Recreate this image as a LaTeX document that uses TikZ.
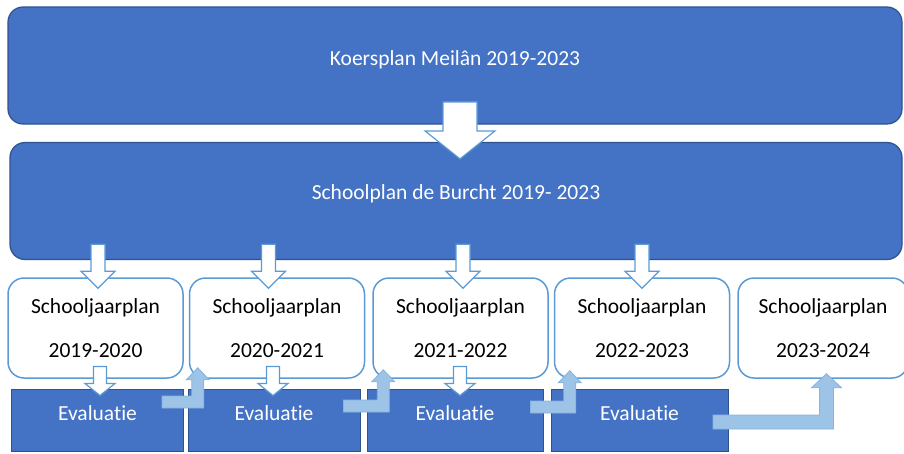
\documentclass[tikz,border=0pt]{standalone}
\usepackage{fontspec}
\setmainfont{Carlito}[Ligatures=NoCommon]
\usetikzlibrary{calc}
\usetikzlibrary{positioning}
\definecolor{mainblue}{RGB}{68, 114, 196}
\definecolor{darkblue}{RGB}{47, 82, 143}
\definecolor{lineblue}{RGB}{91, 155, 213}
\definecolor{bentblue}{RGB}{157, 195, 230}
\newcommand{\planfont}{\fontsize{21.5}{24}\selectfont}
\tikzset{
  mainbox/.style={
    draw=darkblue, fill=mainblue, line width=1.2pt, rounded corners=15pt,
    text=white, font=\planfont, text height=16pt, text depth=17pt,
    minimum height=117pt
  },
  planbox/.style={
    draw=lineblue, fill=white, line width=1.5pt, rounded corners=16pt,
    align=center, font=\planfont, minimum width=175pt, minimum height=100pt,
    inner sep=0pt
  },
  evalbox/.style={
    draw=darkblue, fill=mainblue, line width=1pt, text=white,
    font=\planfont, text height=16pt, text depth=16pt,
    minimum width=172pt, minimum height=62pt
  },
  blockarrow/.style={draw=lineblue, fill=white, line width=1.2pt, line join=miter},
  bentarrow/.style={draw=lineblue!75, fill=bentblue, line width=0.8pt, line join=miter}
}
% #1 tip, #2 length, #3 head length, #4 shaft half width, #5 head half width
\newcommand{\downblock}[5]{%
  \draw[blockarrow] #1 -- ++(-#5,-#3) -- ++(#5-#4,0) -- ++(0,#3-#2)
    -- ++(2*#4,0) -- ++(0,#2-#3) -- ++(#5-#4,0) -- cycle;}
% #1 tail, #2 tip, #3 shaft half width, #4 head half width, #5 head length
\newcommand{\bentblock}[5]{%
  \draw[bentarrow] let \p1=#1, \p2=#2 in
    (\x1,\y1+#3pt) -- (\x2-#3pt,\y1+#3pt) -- (\x2-#3pt,\y2-#5pt)
    -- (\x2-#4pt,\y2-#5pt) -- (\x2,\y2) -- (\x2+#4pt,\y2-#5pt)
    -- (\x2+#3pt,\y2-#5pt) -- (\x2+#3pt,\y1-#3pt) -- (\x1,\y1-#3pt) -- cycle;}

\begin{document}
\begin{tikzpicture}[x=1pt, y=-1pt]
    \useasboundingbox (0,0) rectangle (904,453);

    \node [mainbox, minimum width=894pt] (koers) at (455,65.5)
          {Koersplan Meilân 2019-2023};
    \node [mainbox, minimum width=892pt, text depth=20pt] (school) at (456,201)
          {Schoolplan de Burcht 2019- 2023};

    \node [planbox] (sj1) at (95.5,328) {Schooljaarplan\\[20pt]2019-2020};
    \node [planbox, right=5pt of sj1] (sj2) {Schooljaarplan\\[20pt]2020-2021};
    \node [planbox, right=7pt of sj2] (sj3) {Schooljaarplan\\[20pt]2021-2022};
    \node [planbox, right=5pt of sj3] (sj4) {Schooljaarplan\\[20pt]2022-2023};
    \node [planbox, right=7pt of sj4, minimum width=170pt] (sj5)
          {Schooljaarplan\\[20pt]2023-2024};

    \node [evalbox] (ev1) at (97.5,420) {Evaluatie};
    \node [evalbox] (ev2) at (274,420) {Evaluatie};
    \node [evalbox, minimum width=176pt] (ev3) at (455,420) {Evaluatie};
    \node [evalbox, minimum width=177pt] (ev4) at (639.5,420) {Evaluatie};

    \downblock{([xshift=4pt,yshift=-17pt]school.north)}{57}{28}{17}{35}

    \downblock{([xshift=2.5pt,yshift=-11pt]sj1.north)}{44}{17}{7}{17}
    \downblock{([xshift=-8.5pt,yshift=-11pt]sj2.north)}{44}{17}{7}{17}
    \downblock{([xshift=2.5pt,yshift=-11pt]sj3.north)}{44}{17}{7}{17}
    \downblock{([yshift=-11pt]sj4.north)}{44}{17}{7}{17}

    \downblock{([xshift=2.5pt,yshift=-7pt]ev1.north)}{29}{12}{6.5}{15}
    \downblock{([xshift=-1pt,yshift=-7pt]ev2.north)}{29}{12}{6.5}{15}
    \downblock{([xshift=5pt,yshift=-7pt]ev3.north)}{29}{12}{6.5}{15}

    \bentblock{([xshift=-22pt,yshift=18pt]ev1.east)}{([xshift=9pt,yshift=11pt]sj2.south west)}{6}{11.5}{12}
    \bentblock{([xshift=-17pt,yshift=14pt]ev2.east)}{([xshift=11pt,yshift=9pt]sj3.south west)}{6}{11.5}{12}
    \bentblock{([xshift=-13pt,yshift=13pt]ev3.east)}{([xshift=16pt,yshift=8pt]sj4.south west)}{6}{11.5}{12}
    \bentblock{([xshift=-15.5pt,yshift=-2pt]ev4.east)}{([xshift=3.5pt,yshift=5pt]sj5.south)}{7}{15}{14}
\end{tikzpicture}
\end{document}
